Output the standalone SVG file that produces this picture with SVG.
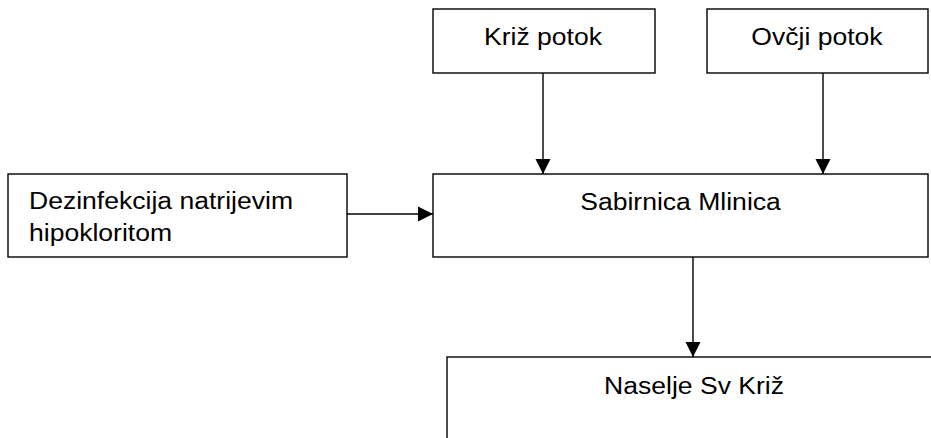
<svg xmlns="http://www.w3.org/2000/svg" width="931" height="438" viewBox="0 0 931 438">
<style>
.box{fill:#fff;stroke:#000;stroke-width:1.4}
.lbl{font-family:"Liberation Sans",Arial,sans-serif;font-size:23.5px;fill:#000}
.c{text-anchor:middle}
.edge{stroke:#000;stroke-width:1.4;fill:none;marker-end:url(#ah)}
</style>
<defs>
<marker id="ah" markerUnits="userSpaceOnUse" markerWidth="16" markerHeight="16" refX="15" refY="8" orient="auto" viewBox="0 0 16 16">
<path d="M0,0.5 L15,8 L0,15.5 z" fill="#000"/>
</marker>
</defs>
<rect width="931" height="438" fill="#fff"/>
<g id="node-kriz-potok">
<rect class="box" x="433" y="9" width="222" height="64"/>
<text class="lbl c" transform="translate(543,45) scale(1.13,1)">Križ potok</text>
</g>
<g id="node-ovcji-potok">
<rect class="box" x="707" y="9" width="221" height="64"/>
<text class="lbl c" transform="translate(817,45) scale(1.13,1)">Ovčji potok</text>
</g>
<g id="node-dezinfekcija">
<rect class="box" x="8" y="174" width="339" height="83"/>
<text class="lbl" transform="translate(29,209) scale(1.13,1)">Dezinfekcija natrijevim</text>
<text class="lbl" transform="translate(29,241) scale(1.13,1)">hipokloritom</text>
</g>
<g id="node-sabirnica">
<rect class="box" x="433" y="174" width="495" height="83"/>
<text class="lbl c" transform="translate(680.5,210) scale(1.13,1)">Sabirnica Mlinica</text>
</g>
<g id="node-naselje">
<rect class="box" x="447" y="357" width="494" height="100"/>
<text class="lbl c" transform="translate(694,394) scale(1.13,1)">Naselje Sv Križ</text>
</g>
<g id="connectors">
<line class="edge" x1="543" y1="73" x2="543" y2="174"/>
<line class="edge" x1="823" y1="73" x2="823" y2="174"/>
<line class="edge" x1="347" y1="214" x2="433" y2="214"/>
<line class="edge" x1="693" y1="257" x2="693" y2="357"/>
</g>
</svg>
